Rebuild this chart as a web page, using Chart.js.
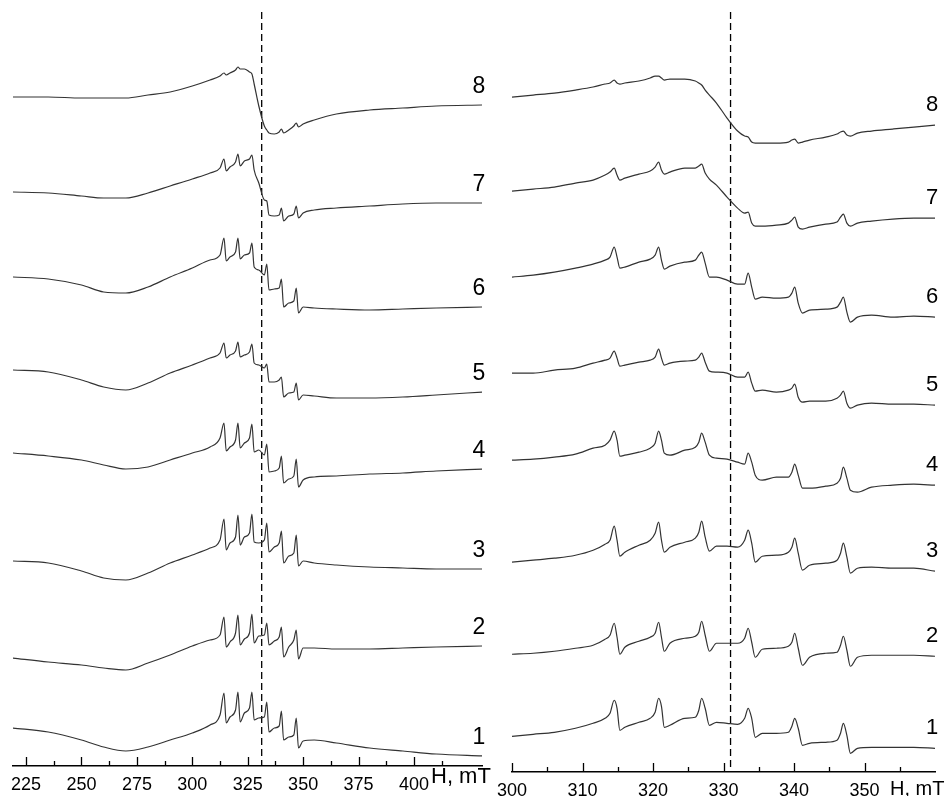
<!DOCTYPE html>
<html>
<head>
<meta charset="utf-8">
<title>EPR spectra</title>
<script src="https://cdn.jsdelivr.net/npm/chart.js@4.4.1/dist/chart.umd.min.js"></script>
<style>
  html, body { margin: 0; padding: 0; background: #fff; }
  #wrap { position: relative; width: 949px; height: 796px; overflow: hidden; }
  #left { position: absolute; left: 0; top: 0; width: 497px; height: 796px; }
  #right { position: absolute; left: 497px; top: 0; width: 452px; height: 796px; }
</style>
</head>
<body>
<div id="wrap">
  <canvas id="left" width="497" height="796"></canvas>
  <canvas id="right" width="452" height="796"></canvas>
</div>
<script>
// Field, mT (left panel: wide scan)
const leftField = [219, 235, 250, 260, 270, 280, 290, 300, 308, 312.5, 314.3, 315.3, 317, 319.5, 320.6, 321.6, 323.5, 325.8, 326.9, 327.9,
  330, 332.5, 333.6, 334.6, 337, 339.2, 340.2, 341.2, 343.5, 345.8, 346.9, 347.9, 350, 355, 365, 380, 395, 410, 431];

// Signal (a.u., already stacked) for spectra 1..8, left panel
const leftT1 = [3.8,3.4,2.6,1.9,1.5,1.9,2.6,3.3,4.1,5.1,7.3,4.3,4.9,5.6,7.4,4.4,5.3,5.8,7.4,4.6,4.8,4.9,6.4,3.4,3.8,4.0,5.5,2.6,2.9,3.1,4.8,1.8,2.5,2.6,2.3,1.8,1.5,1.2,1.0];
const leftT2 = [10.8,10.4,10.1,9.8,9.6,10.3,11.1,12.0,12.6,13.1,14.9,11.9,12.4,13.3,15.1,12.1,12.7,13.3,15.2,12.3,13.0,13.1,14.3,12.1,12.5,12.9,13.9,10.9,11.9,12.6,13.6,10.7,11.8,11.8,11.7,11.7,11.8,11.9,12.0];
const leftT3 = [20.5,20.3,19.5,18.8,18.6,19.3,20.3,21.1,21.8,22.6,24.7,21.6,22.3,22.9,25.1,22.1,22.9,23.3,25.2,22.4,22.3,22.6,24.3,21.4,21.9,22.3,23.5,20.3,21.0,21.3,23.1,20.0,20.5,20.3,20.1,19.9,19.8,19.7,19.7];
const leftT4 = [31.3,31.0,30.6,30.1,29.7,29.9,30.6,31.3,31.9,32.8,34.3,31.5,31.9,32.6,34.3,31.8,32.3,32.8,34.2,31.4,31.6,31.1,32.2,29.4,29.5,29.8,31.0,28.3,28.7,29.0,30.7,27.9,28.6,28.9,29.0,29.2,29.3,29.5,29.7];
const leftT5 = [39.6,39.4,38.6,37.9,37.6,38.3,39.3,40.1,40.8,41.3,42.3,40.8,41.1,41.5,42.4,40.9,41.1,41.4,42.2,40.3,40.1,39.8,40.2,38.4,38.4,38.6,38.9,36.9,37.3,37.4,38.3,36.6,37.1,37.0,36.8,36.8,36.9,37.1,37.4];
const leftT6 = [48.9,48.7,48.1,47.4,47.3,47.9,48.9,49.8,50.6,51.1,52.8,50.5,50.9,51.4,52.8,50.7,51.1,51.3,52.3,49.9,49.6,49.1,50.2,47.6,47.7,47.8,48.7,45.9,46.3,46.5,47.8,45.3,45.9,45.8,45.7,45.6,45.7,45.8,45.9];
const leftT7 = [57.4,57.3,57.0,56.8,56.8,57.3,58.0,58.7,59.3,59.8,60.7,59.5,59.9,60.4,61.2,60.0,60.5,60.7,61.1,59.6,58.3,56.6,56.5,55.1,55.0,55.1,55.8,54.5,55.0,55.2,56.0,54.8,55.3,55.6,55.8,56.0,56.2,56.3,56.3];
const leftT8 = [66.9,66.9,66.8,66.8,66.8,67.1,67.4,68.0,68.6,69.0,69.3,69.1,69.3,69.6,69.9,69.7,69.7,69.4,69.2,68.2,66.0,64.0,63.6,63.3,63.2,63.4,63.7,63.3,63.6,64.0,64.3,63.9,64.2,64.6,65.2,65.6,65.8,66.0,66.1];

// Field, mT (right panel: narrow scan)
const rightField = [300, 303, 306, 309, 311.5, 313.2, 313.9, 314.5, 314.9, 315.3, 316, 318, 319.6, 320.3, 320.8, 321.2, 321.6, 322.4, 324.5, 326,
  326.5, 326.9, 327.4, 328, 329, 330.5, 332, 333, 333.5, 334, 334.5, 335.5, 337.5, 339.2, 339.7, 340.1, 340.6, 341.2, 342.2, 344.5,
  346.1, 346.6, 347, 347.5, 348, 349, 351, 354, 357, 360];

const rightT1 = [3.0,3.2,3.4,3.8,4.3,4.8,5.3,6.6,5.8,3.6,3.9,4.4,4.8,5.4,6.8,6.0,3.9,4.1,4.8,4.9,5.6,6.8,5.8,4.1,4.4,4.3,4.2,4.8,5.8,4.8,2.9,3.3,3.3,3.4,4.0,4.8,3.8,2.1,2.3,2.4,2.6,3.3,4.3,3.1,1.3,1.8,1.9,1.9,1.9,1.8];
const rightT2 = [11.2,11.3,11.5,11.8,12.1,12.7,13.1,14.3,12.9,11.2,11.9,12.5,12.9,13.3,14.4,12.9,11.5,12.3,12.8,13.0,13.4,14.5,13.1,11.5,12.3,12.3,12.3,12.8,13.8,12.4,10.9,11.7,11.8,12.0,12.4,13.3,11.8,10.1,10.9,11.3,11.4,12.1,13.0,11.6,10.0,10.9,11.1,11.1,11.1,11.0];
const rightT3 = [20.4,20.6,20.8,21.1,21.6,22.2,22.6,24.0,22.6,21.0,21.4,22.1,22.6,23.3,24.4,22.6,21.4,21.9,22.4,22.8,23.4,24.5,22.9,21.5,22.0,22.0,21.9,22.6,23.6,22.3,20.4,21.0,21.1,21.4,21.9,22.8,21.3,19.6,20.1,20.3,20.6,21.3,22.3,20.9,19.3,19.8,19.9,19.8,19.8,19.5];
const rightT4 = [30.6,30.7,30.9,31.2,31.8,32.1,32.6,33.5,32.6,31.0,31.1,31.4,31.8,32.3,33.5,32.6,31.3,31.1,31.6,31.9,32.4,33.3,32.4,31.1,30.8,30.7,30.4,30.2,31.3,30.4,29.1,28.6,28.9,28.9,29.4,30.2,29.1,27.8,27.8,28.0,28.3,28.8,29.9,28.8,27.6,27.4,27.9,28.1,28.2,28.1];
const rightT5 = [39.3,39.3,39.6,39.8,40.3,40.6,40.8,41.5,40.8,40.0,40.1,40.4,40.6,40.9,41.7,40.8,40.1,40.3,40.5,40.6,40.9,41.3,40.4,39.5,39.4,39.3,38.9,38.9,39.4,38.3,37.5,37.6,37.4,37.6,37.8,38.2,36.9,36.4,36.5,36.5,36.8,37.1,37.5,36.3,35.8,36.1,36.3,36.2,36.2,36.1];
const rightT6 = [48.9,49.1,49.4,49.8,50.2,50.6,50.9,51.9,50.9,49.8,49.9,50.4,50.7,51.1,51.9,50.6,49.7,50.0,50.4,50.6,51.1,51.4,50.3,48.9,48.9,48.6,48.2,48.2,49.3,47.9,46.7,46.9,46.8,46.9,47.3,47.9,46.3,45.3,45.6,45.7,45.9,46.4,46.9,45.4,44.4,44.9,45.1,44.9,45.0,44.9];
const rightT7 = [57.5,57.7,57.9,58.3,58.6,59.1,59.4,59.8,59.1,58.6,58.8,59.2,59.5,59.9,60.4,59.6,59.2,59.4,59.8,59.8,60.0,60.2,59.3,58.7,58.1,56.9,55.8,55.3,55.4,54.3,54.0,54.0,54.1,54.3,54.6,54.9,53.9,53.7,53.9,54.2,54.4,54.9,55.2,54.3,54.0,54.3,54.5,54.7,54.8,54.8];
const rightT8 = [66.9,67.1,67.3,67.6,67.9,68.2,68.3,68.6,68.3,68.2,68.3,68.5,68.8,69.0,69.0,68.8,68.6,68.7,68.7,68.5,68.3,68.1,67.6,67.1,66.3,64.8,63.5,63.0,62.9,62.4,62.3,62.3,62.3,62.4,62.6,62.7,62.3,62.4,62.6,62.9,63.2,63.4,63.5,63.1,63.0,63.3,63.5,63.7,63.9,64.1];

// dashed reference field (left, right) and its top level
const dashField = [331.3, 331.0];
const dashTop = 75.4;

// axis ticks
const leftMajor = [225, 250, 275, 300, 325, 350, 375, 400];
const leftMinor = [237.5, 262.5, 287.5, 312.5, 337.5, 362.5, 387.5, 412.5];
const rightMajor = [300, 310, 320, 330, 340, 350];
const rightMinor = [305, 315, 325, 335, 345, 355];

const FONT = '"Liberation Sans", Arial, sans-serif';

// tick marks pointing up, axis title and curve numbers
const decor = {
  id: 'decor',
  afterDatasetsDraw(chart, args, o) {
    const { ctx, chartArea } = chart;
    const xs = chart.scales.x, ys = chart.scales.y;
    const base = xs.top;
    ctx.save();
    ctx.strokeStyle = '#000';
    ctx.lineWidth = 1.3;
    ctx.beginPath();
    o.major.forEach(v => {
      const p = Math.round(xs.getPixelForValue(v)) + 0.5;
      ctx.moveTo(p, base); ctx.lineTo(p, base - 9);
    });
    o.minor.forEach(v => {
      const p = Math.round(xs.getPixelForValue(v)) + 0.5;
      ctx.moveTo(p, base); ctx.lineTo(p, base - 5);
    });
    ctx.stroke();

    ctx.fillStyle = '#000';
    ctx.textAlign = 'left';
    ctx.textBaseline = 'alphabetic';
    ctx.font = o.titleSize + 'px ' + FONT;
    ctx.fillText('H, mT', chartArea.right + o.titleDx, base + o.titleDy);

    ctx.textAlign = 'center';
    ctx.font = o.labelSize + 'px ' + FONT;
    chart.data.datasets.forEach(ds => {
      if (!ds.tag) return;
      const last = ds.data[ds.data.length - 1];
      ctx.fillText(ds.tag, chartArea.right - 3, ys.getPixelForValue(last.y) + o.labelDy);
    });
    ctx.restore();
  }
};

function traces(field, series) {
  return series.map((vals, i) => ({
    tag: String(i + 1),
    data: field.map((h, k) => ({ x: h, y: vals[k] })),
    borderColor: '#333',
    borderWidth: 1.2,
    pointRadius: 0,
    cubicInterpolationMode: 'monotone',
    fill: false
  }));
}

function dashLine(h, bottom) {
  return {
    data: [{ x: h, y: dashTop }, { x: h, y: bottom }],
    borderColor: '#000',
    borderWidth: 1.3,
    borderDash: [7, 4],
    pointRadius: 0,
    tension: 0,
    fill: false
  };
}

function makeChart(id, c) {
  return new Chart(document.getElementById(id), {
    type: 'line',
    data: { datasets: [...traces(c.field, c.series), dashLine(c.dash, c.yMin)] },
    plugins: [decor],
    options: {
      responsive: false,
      animation: false,
      layout: { padding: { left: c.padL, right: c.padR, top: 0, bottom: 0 } },
      plugins: {
        legend: { display: false },
        tooltip: { enabled: false },
        decor: c.decor
      },
      scales: {
        x: {
          type: 'linear',
          min: c.xMin, max: c.xMax,
          afterBuildTicks: s => { s.ticks = c.major.map(v => ({ value: v })); },
          afterFit: s => { s.height = c.axisH; s.paddingLeft = 0; s.paddingRight = 0; },
          grid: { display: false, drawTicks: false },
          border: { display: true, color: '#000', width: 1.5 },
          ticks: {
            color: '#000',
            font: { family: FONT, size: 18 },
            padding: 8,
            maxRotation: 0,
            autoSkip: false
          }
        },
        y: { display: false, min: c.yMin, max: 76.6 }
      }
    }
  });
}

makeChart('left', {
  field: leftField,
  series: [leftT1, leftT2, leftT3, leftT4, leftT5, leftT6, leftT7, leftT8],
  dash: dashField[0],
  xMin: 219.1, xMax: 430.7, yMin: 0,
  padL: 13, padR: 15, axisH: 30,
  major: leftMajor,
  decor: { major: leftMajor, minor: leftMinor, titleSize: 22, titleDx: -51, titleDy: 17, labelSize: 23, labelDy: -12 }
});

makeChart('right', {
  field: rightField,
  series: [rightT1, rightT2, rightT3, rightT4, rightT5, rightT6, rightT7, rightT8],
  dash: dashField[1],
  xMin: 300, xMax: 360, yMin: -0.57,
  padL: 15, padR: 14, axisH: 24,
  major: rightMajor,
  decor: { major: rightMajor, minor: rightMinor, titleSize: 20, titleDx: -45, titleDy: 23, labelSize: 22, labelDy: -14 }
});
</script>
</body>
</html>
